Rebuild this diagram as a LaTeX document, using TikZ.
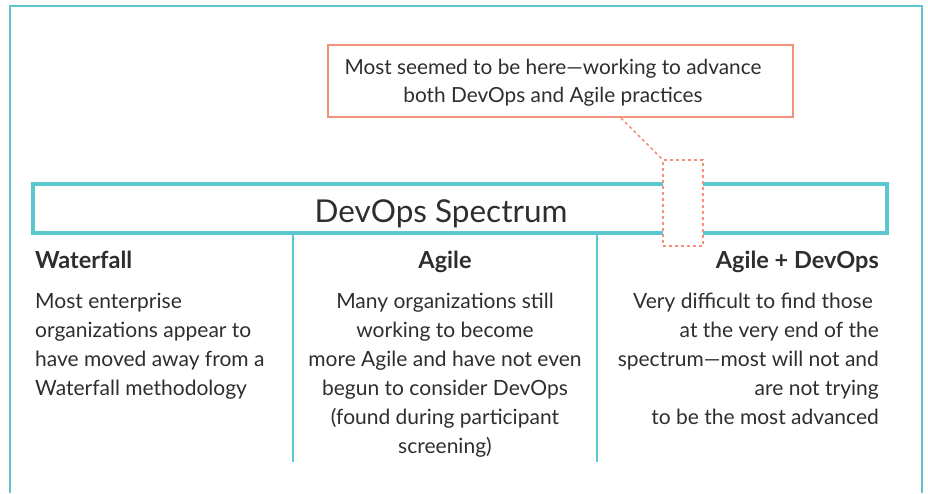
\documentclass[tikz,border=0pt]{standalone}
\usepackage{fontspec}
\setmainfont{Lato}
\usetikzlibrary{positioning}
\definecolor{specteal}{HTML}{5BC8D0}
\definecolor{notecoral}{HTML}{F4917A}
\definecolor{inkgray}{HTML}{2E2E2E}

\begin{document}
\begin{tikzpicture}[x=1pt,y=-1pt,
        every node/.style={text=inkgray},
        frame/.style={draw=specteal, line width=2pt},
        bar/.style={draw=specteal, line width=4pt, minimum width=854pt, minimum height=49pt},
        divider/.style={draw=specteal, line width=1.5pt},
        head/.style={font=\fontsize{23.5}{28}\selectfont\bfseries, inner sep=0pt, text height=14pt, text depth=0pt},
        body/.style={font=\fontsize{21}{29}\selectfont, inner sep=0pt},
        callout/.style={draw=notecoral, line width=1.5pt, minimum width=465pt, minimum height=72pt, align=center, font=\fontsize{20.8}{28}\selectfont},
        marker/.style={draw=notecoral, dashed, line width=1.5pt, fill=white, minimum width=40pt, minimum height=86pt, inner sep=0pt},
        pointer/.style={draw=notecoral, dashed, line width=1.5pt}]
        \useasboundingbox (0,0) rectangle (928,493);

        % Frame
        \draw [frame] (10,493) -- (10,6) -- (922,6) -- (922,493);

        % Nodes
        \node (spec) [bar] at (460,208.5) {};
        \node (spec title) [anchor=base, font=\fontsize{31.5}{36}\selectfont] at (441,222) {DevOps Spectrum};
        \node (note) [callout] at (560.5,81) {};
        \node (note text) [align=center, font=\fontsize{20.8}{28}\selectfont] at (553,83) {Most seemed to be here---working to advance\\both DevOps and Agile practices};
        \node (mark) [marker] at (683,203) {};
        \coordinate (tail) at (621,118);

        \node (wf) [head, anchor=base west] at (35,268) {Waterfall};
        \node (ag) [head, anchor=base] at (445,268) {Agile};
        \node (ad) [head, anchor=base east] at (879,268) {Agile + DevOps};

        \node (wf text) [body, align=left, below=25pt of wf.south west, anchor=north west]
            {Most enterprise\\organizations appear to\\have moved away from a\\Waterfall methodology};
        \node (ag text) [body, align=center, below=25pt of ag.south]
            {Many organizations still\\working to become\\more Agile and have not even\\begun to consider DevOps\\(found during participant\\screening)};
        \node (ad text) [body, align=right, below=25pt of ad.south east, anchor=north east]
            {Very difficult to find those\hspace*{6pt}\\at the very end of the\hspace*{6pt}\\spectrum---most will not and\hspace*{6pt}\\are not trying\hspace*{6pt}\\to be the most advanced};

        % Lines
        \coordinate (div1) at (293,462);
        \coordinate (div2) at (597,462);
        \draw [divider] (spec.south -| div1) -- (div1);
        \draw [divider] (spec.south -| div2) -- (div2);
        \draw [pointer] (tail) -- (mark.north west);
    \end{tikzpicture}
\end{document}
